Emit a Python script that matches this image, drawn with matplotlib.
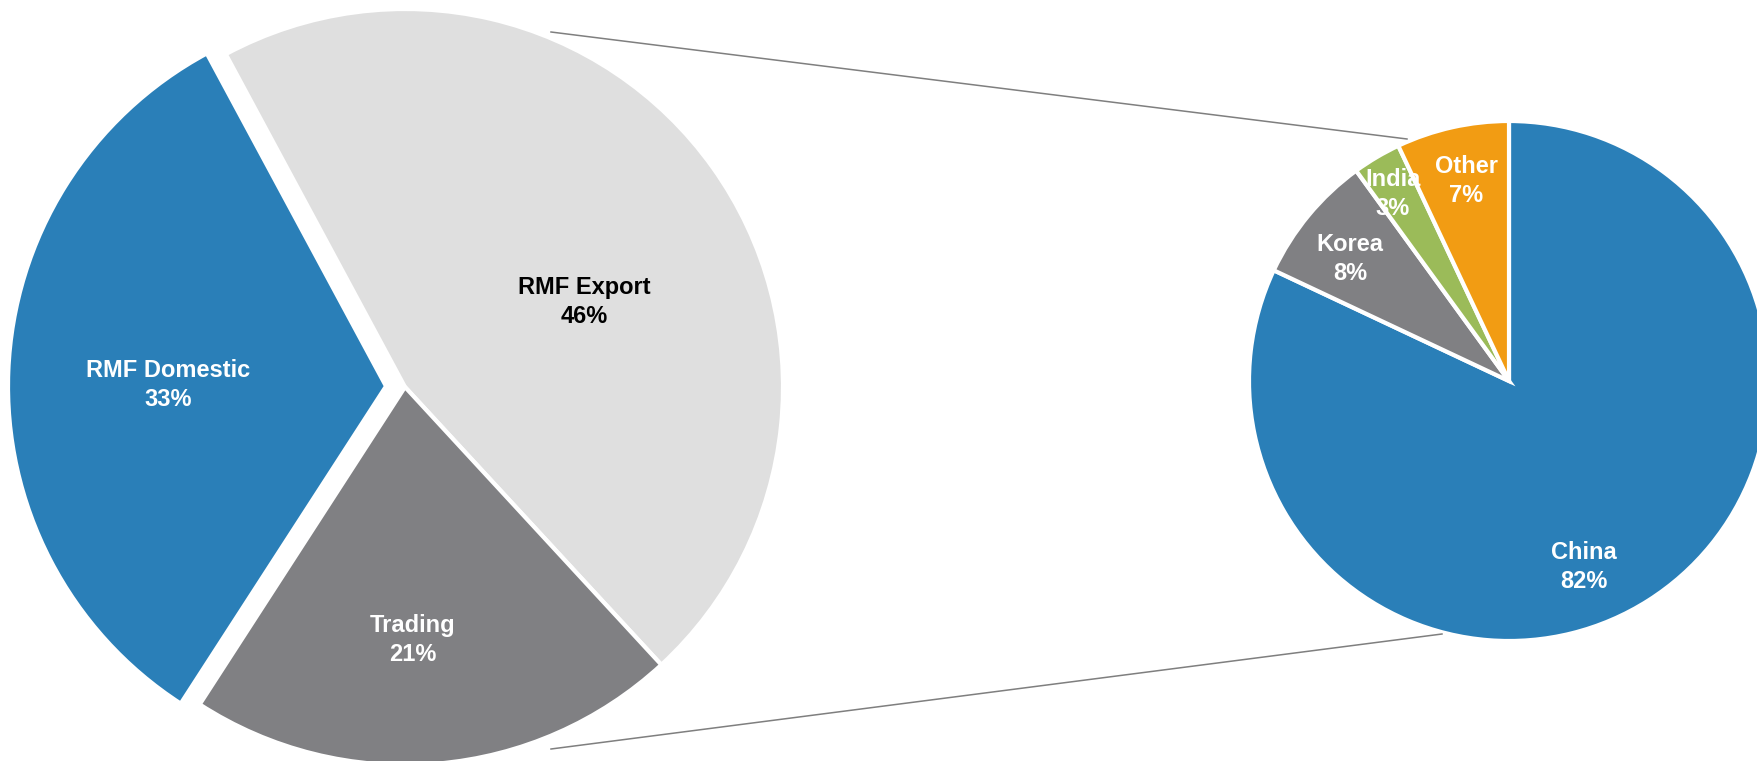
import matplotlib
matplotlib.use("Agg")
import matplotlib.pyplot as plt

# main pie
main_labels = ["RMF Export", "Trading", "RMF Domestic"]
main_values = [46, 21, 33]

# breakdown pie
sub_labels = ["China", "Korea", "India", "Other"]
sub_values = [82, 8, 3, 7]

main_colors = ["#dfdfdf", "#808083", "#2a7fb8"]
main_text = ["black", "white", "white"]
sub_colors = ["#2a7fb8", "#808083", "#9bbb59", "#f29c13"]

W, H = 1757, 761
plt.rcParams['font.family'] = ['Liberation Sans', 'DejaVu Sans']

fig = plt.figure(figsize=(W / 100, H / 100), dpi=100)
ax = fig.add_axes([0, 0, 1, 1])

# pixel layout (y measured from top, converted below)
main_c = (405, H - 387)
main_r = 378
sub_c = (1509, H - 381)
sub_r = 260

ax.pie(main_values, colors=main_colors, center=main_c, radius=main_r,
       startangle=118.3, counterclock=False, explode=[0, 0, 19],
       wedgeprops=dict(edgecolor='white', linewidth=3), frame=True)
ax.pie(sub_values, colors=sub_colors, center=sub_c, radius=sub_r,
       startangle=90, counterclock=False,
       wedgeprops=dict(edgecolor='white', linewidth=3), frame=True)
ax.set_xlim(0, W)
ax.set_ylim(0, H)
ax.set_aspect('equal')
ax.axis('off')

# connector lines
ax.plot([551, 1407], [H - 32, H - 139], color='#7f7f7f', linewidth=1.1)
ax.plot([551, 1442], [H - 749, H - 634], color='#7f7f7f', linewidth=1.1)

# data labels
main_pos = [(584, 302), (413, 640), (168, 385)]
for lab, v, (x, y), c in zip(main_labels, main_values, main_pos, main_text):
    ax.text(x, H - y, f"{lab}\n{v}%", ha='center', va='center',
            fontsize=17, fontweight='bold', color=c, linespacing=1.35)

sub_pos = [(1584, 567), (1350, 259), (1393, 194), (1466, 181)]
for lab, v, (x, y) in zip(sub_labels, sub_values, sub_pos):
    ax.text(x, H - y, f"{lab}\n{v}%", ha='center', va='center',
            fontsize=17, fontweight='bold', color='white', linespacing=1.35)

fig.savefig("out.png", dpi=100)
